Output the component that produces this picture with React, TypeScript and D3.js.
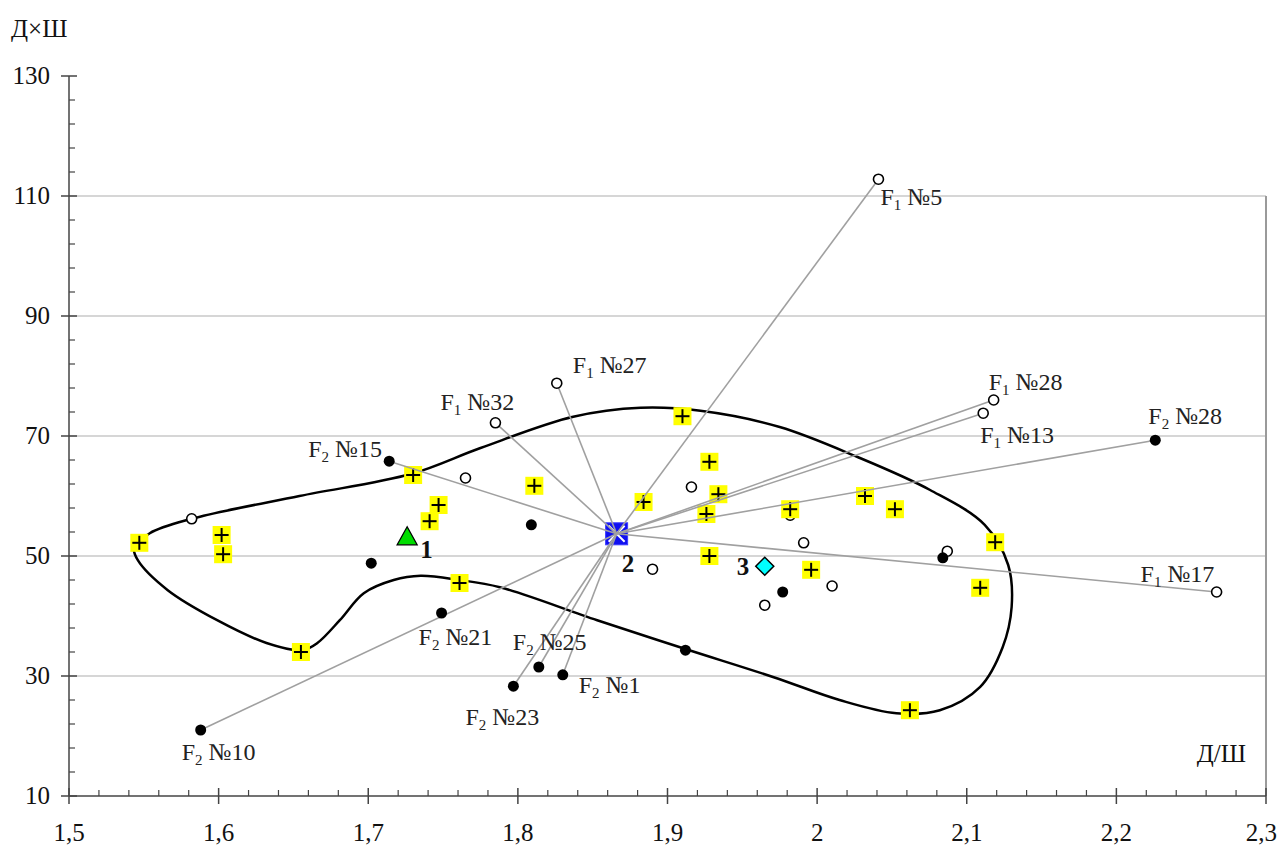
import React from "react";
import * as d3 from "d3";

const xTickValues = [1.5, 1.6, 1.7, 1.8, 1.9, 2.0, 2.1, 2.2, 2.3];
const yTickValues = [10, 30, 50, 70, 90, 110, 130];
const gridValues = [30, 50, 70, 90, 110];

const crossPoints: [number, number][] = [
  [1.547, 52.2], [1.602, 53.5], [1.603, 50.3], [1.655, 34.0], [1.73, 63.5],
  [1.741, 55.8], [1.747, 58.5], [1.761, 45.5], [1.811, 61.7], [1.884, 59.0],
  [1.91, 73.3], [1.928, 65.7], [1.934, 60.3], [1.926, 57.0], [1.928, 50.0],
  [1.982, 57.8], [1.996, 47.7], [2.032, 60.0], [2.052, 57.8], [2.119, 52.3],
  [2.109, 44.7], [2.062, 24.3],
];

const openPoints: [number, number][] = [
  [1.582, 56.2], [1.765, 63.0], [1.916, 61.5], [1.89, 47.8], [1.991, 52.2],
  [2.01, 45.0], [1.965, 41.8], [2.087, 50.8], [1.982, 56.8],
];

const filledPoints: [number, number][] = [
  [1.702, 48.8], [1.809, 55.2], [1.912, 34.3], [1.977, 44.0], [2.084, 49.7],
];

// named samples: gen, number, kind, x, y, linked to centre
const namedPoints = [
  { gen: "1", num: "5", kind: "open", x: 2.041, y: 112.8, link: true },
  { gen: "1", num: "27", kind: "open", x: 1.826, y: 78.8, link: true },
  { gen: "1", num: "32", kind: "open", x: 1.785, y: 72.2, link: true },
  { gen: "1", num: "28", kind: "open", x: 2.118, y: 76.0, link: true },
  { gen: "1", num: "13", kind: "open", x: 2.111, y: 73.8, link: true },
  { gen: "1", num: "17", kind: "open", x: 2.267, y: 44.0, link: true },
  { gen: "2", num: "15", kind: "filled", x: 1.714, y: 65.8, link: true },
  { gen: "2", num: "28", kind: "filled", x: 2.226, y: 69.3, link: true },
  { gen: "2", num: "21", kind: "filled", x: 1.749, y: 40.5, link: false },
  { gen: "2", num: "25", kind: "filled", x: 1.814, y: 31.5, link: true },
  { gen: "2", num: "1", kind: "filled", x: 1.83, y: 30.2, link: true },
  { gen: "2", num: "23", kind: "filled", x: 1.797, y: 28.3, link: true },
  { gen: "2", num: "10", kind: "filled", x: 1.588, y: 21.0, link: true },
];

const centre1: [number, number] = [1.726, 53.2];
const centre2: [number, number] = [1.866, 53.7];
const centre3: [number, number] = [1.965, 48.3];

const contourPoints: [number, number][] = [
  [1.5435, 51.3], [1.554, 53.8], [1.582, 56.2], [1.654, 60.0], [1.729, 63.7],
  [1.775, 68.0], [1.837, 73.2], [1.882, 74.7], [1.922, 74.2], [1.975, 71.5],
  [2.027, 66.5], [2.0755, 61.0], [2.112, 55.2], [2.1277, 48.5], [2.13, 41.5],
  [2.124, 34.8], [2.109, 28.2], [2.082, 24.3], [2.053, 23.8], [2.015, 26.0],
  [1.971, 29.8], [1.912, 34.5], [1.853, 39.3], [1.788, 44.8], [1.761, 46.0],
  [1.735, 46.7], [1.717, 46.0], [1.697, 43.8], [1.681, 39.3], [1.666, 35.5],
  [1.656, 34.3], [1.632, 35.5], [1.599, 39.3], [1.566, 44.3], [1.546, 49.3],
];

// label offsets in px (style only)
const labelOffsets: Record<string, [number, number]> = {
  "1-5": [2, 26], "1-27": [16, -10], "1-32": [-55, -13], "1-28": [-5, -10],
  "1-13": [-3, 30], "1-17": [-76, -10], "2-15": [-81, -4], "2-28": [-7, -16],
  "2-21": [-23, 32], "2-25": [-26, -17], "2-1": [16, 18], "2-23": [-48, 39],
  "2-10": [-19, 30],
};

const W = 1279, H = 847;
const FONT = "Liberation Serif, Times New Roman, DejaVu Serif, serif";

export default function App() {
  const x = d3.scaleLinear().domain([1.5, 2.3]).range([69, 1266]);
  const y = d3.scaleLinear().domain([10, 130]).range([796, 76]);

  const line = d3
    .line<[number, number]>()
    .x((d) => x(d[0]))
    .y((d) => y(d[1]))
    .curve(d3.curveCatmullRomClosed.alpha(0.5));

  const minorX = d3.range(0, 41).map((i) => 1.5 + i * 0.02).filter((_, i) => i % 5 !== 0);
  const minorY = d3.range(0, 31).map((i) => 10 + i * 4).filter((_, i) => i % 5 !== 0);
  const fmt = (v: number) => String(Math.round(v * 10) / 10).replace(".", ",");

  const cx2 = x(centre2[0]), cy2 = y(centre2[1]);

  const crossMark = (px: number, py: number, k: number) => (
    <g key={"c" + k} transform={`translate(${px},${py})`}>
      <rect x={-9} y={-9} width={18} height={18} fill="#ffff00" />
      <line x1={-7} x2={7} y1={0} y2={0} stroke="#000" strokeWidth={2} />
      <line x1={0} x2={0} y1={-7} y2={7} stroke="#000" strokeWidth={2} />
    </g>
  );

  return (
    <svg width={W} height={H} style={{ position: "absolute", left: 0, top: 0, background: "#fff", fontFamily: FONT }}>
      <rect width={W} height={H} fill="#fff" />
      {/* grid */}
      {gridValues.map((v) => (
        <line key={"g" + v} x1={x(1.5)} x2={x(2.3)} y1={y(v)} y2={y(v)} stroke="#c8c8c8" strokeWidth={1.5} />
      ))}
      <line x1={x(2.3)} x2={x(2.3)} y1={y(110)} y2={y(10)} stroke="#9a9a9a" strokeWidth={2} />

      {/* axes */}
      <line x1={x(1.5)} x2={x(1.5)} y1={y(130)} y2={y(10)} stroke="#444" strokeWidth={1.5} />
      <line x1={x(1.5)} x2={x(2.3)} y1={y(10)} y2={y(10)} stroke="#444" strokeWidth={1.5} />
      {minorX.map((v, i) => (
        <line key={"mx" + i} x1={x(v)} x2={x(v)} y1={y(10)} y2={y(10) - 6} stroke="#444" strokeWidth={1.2} />
      ))}
      {xTickValues.map((v, i) => (
        <g key={"xt" + v}>
          <line x1={x(v)} x2={x(v)} y1={y(10) - 8} y2={y(10) + 8} stroke="#444" strokeWidth={1.5} />
          <text
            x={i === xTickValues.length - 1 ? W - 2 : x(v)}
            y={841}
            fontSize={25}
            textAnchor={i === xTickValues.length - 1 ? "end" : "middle"}
            fill="#111"
          >
            {fmt(v)}
          </text>
        </g>
      ))}
      {minorY.map((v, i) => (
        <line key={"my" + i} x1={x(1.5)} x2={x(1.5) + 6} y1={y(v)} y2={y(v)} stroke="#444" strokeWidth={1.2} />
      ))}
      {yTickValues.map((v) => (
        <g key={"yt" + v}>
          <line x1={x(1.5) - 8} x2={x(1.5) + 8} y1={y(v)} y2={y(v)} stroke="#444" strokeWidth={1.5} />
          <text x={50} y={y(v) + 8} fontSize={25} textAnchor="end" fill="#111">{v}</text>
        </g>
      ))}
      <text x={11} y={37} fontSize={25} fill="#111">Д×Ш</text>
      <text x={1246} y={762} fontSize={25} textAnchor="end" fill="#111">Д/Ш</text>

      {/* contour */}
      <path d={line(contourPoints) || ""} fill="none" stroke="#000" strokeWidth={2.5} />

      {/* open circles (some partially under crosses) */}
      {openPoints.map((p, i) => (
        <circle key={"o" + i} cx={x(p[0])} cy={y(p[1])} r={5} fill="#fff" stroke="#000" strokeWidth={1.6} />
      ))}
      {filledPoints.map((p, i) => (
        <circle key={"f" + i} cx={x(p[0])} cy={y(p[1])} r={5.5} fill="#000" />
      ))}
      {crossPoints.map((p, i) => crossMark(x(p[0]), y(p[1]), i))}

      {/* centre 2 marker */}
      <g transform={`translate(${cx2},${cy2})`}>
        <rect x={-11} y={-11} width={22} height={22} fill="#1010f0" stroke="#3a3aff" strokeWidth={1} />
        <line x1={-8} x2={8} y1={-8} y2={8} stroke="#fff" strokeWidth={2} />
        <line x1={-8} x2={8} y1={8} y2={-8} stroke="#fff" strokeWidth={2} />
      </g>

      {/* links */}
      {namedPoints.filter((d) => d.link).map((d, i) => (
        <line key={"l" + i} x1={cx2} y1={cy2} x2={x(d.x)} y2={y(d.y)} stroke="#a0a0a0" strokeWidth={1.6} />
      ))}

      {/* named points */}
      {namedPoints.map((d, i) =>
        d.kind === "open" ? (
          <circle key={"no" + i} cx={x(d.x)} cy={y(d.y)} r={5} fill="#fff" stroke="#000" strokeWidth={1.6} />
        ) : (
          <circle key={"nf" + i} cx={x(d.x)} cy={y(d.y)} r={5.5} fill="#000" />
        )
      )}
      {namedPoints.map((d, i) => {
        const off = labelOffsets[d.gen + "-" + d.num] || [5, -5];
        return (
          <text key={"t" + i} x={x(d.x) + off[0]} y={y(d.y) + off[1]} fontSize={24} fill="#222">
            F<tspan fontSize={15} dy={5}>{d.gen}</tspan>
            <tspan dy={-5}>{" №" + d.num}</tspan>
          </text>
        );
      })}

      {/* centre 1: triangle */}
      <path
        d={`M${x(centre1[0])},${y(centre1[1]) - 10} L${x(centre1[0]) + 10},${y(centre1[1]) + 8} L${x(centre1[0]) - 10},${y(centre1[1]) + 8} Z`}
        fill="#00dd00" stroke="#000" strokeWidth={1.3}
      />
      <text x={x(centre1[0]) + 13} y={y(centre1[1]) + 21} fontSize={25} fontWeight="bold" fill="#111">1</text>
      <text x={cx2 + 5} y={cy2 + 38} fontSize={25} fontWeight="bold" fill="#111">2</text>
      {/* centre 3: diamond */}
      <path
        d={`M${x(centre3[0])},${y(centre3[1]) - 9} L${x(centre3[0]) + 9},${y(centre3[1])} L${x(centre3[0])},${y(centre3[1]) + 9} L${x(centre3[0]) - 9},${y(centre3[1])} Z`}
        fill="#00ffff" stroke="#000" strokeWidth={1.5}
      />
      <text x={x(centre3[0]) - 28} y={y(centre3[1]) + 9} fontSize={25} fontWeight="bold" fill="#111">3</text>
    </svg>
  );
}
